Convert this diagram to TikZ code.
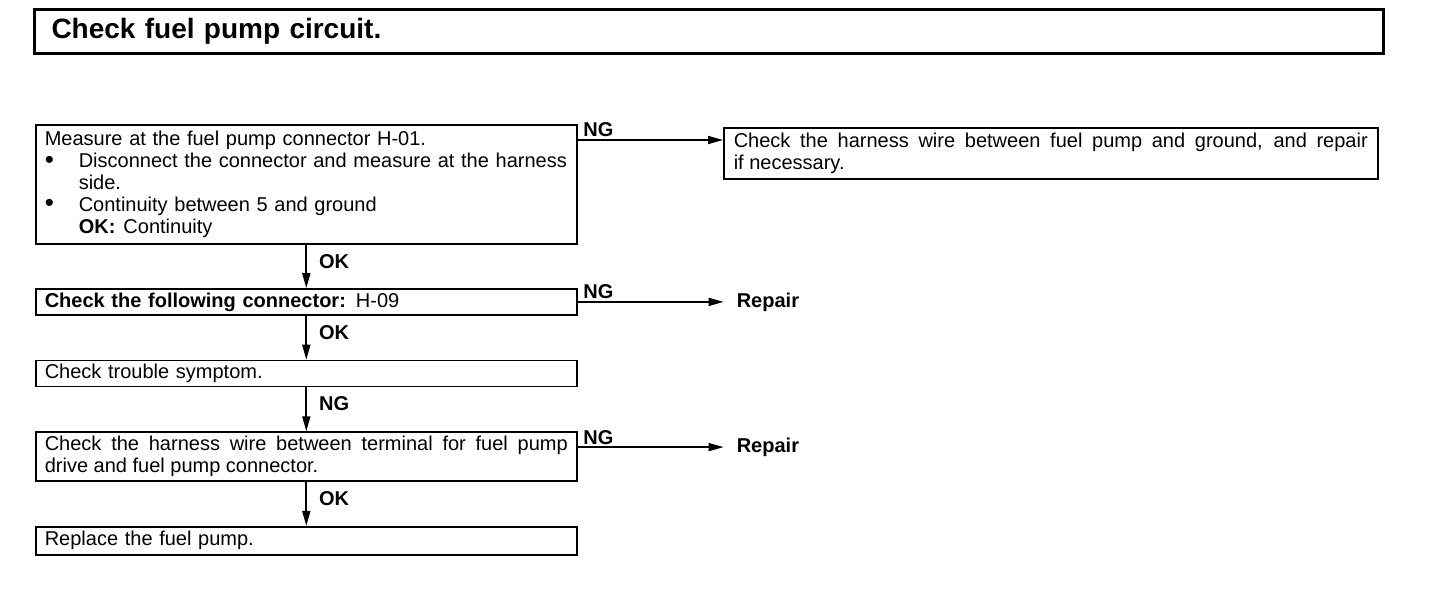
\documentclass[tikz,border=0pt]{standalone}
\usepackage{fontspec}
\setmainfont{Liberation Sans}
\usetikzlibrary{arrows.meta, positioning}

\newcommand{\dotitem}{\makebox[34pt][l]{\raisebox{-0.6pt}{\scalebox{1.3}{\textbullet}}}}

\begin{document}
\begin{tikzpicture}[x=1pt, y=-1pt,
    stepbox/.style={draw, line width=1.6pt, rectangle, anchor=north west, text width=523pt,
        inner xsep=9pt, inner ysep=0pt, align=left, font=\fontsize{20}{21.8}\selectfont},
    flow/.style={line width=1.7pt, -{Triangle[length=15pt, width=8pt]}},
    lbl/.style={font=\bfseries\fontsize{20}{20}\selectfont, inner sep=2pt},
    fix/.style={font=\bfseries\fontsize{20}{22}\selectfont, anchor=west, inner sep=0pt}]

    \useasboundingbox (0,0) rectangle (1440,592);

    % heading
    \node[draw, line width=3pt, anchor=north west, minimum height=44pt, text width=1315pt,
        inner xsep=17pt, align=left, font=\bfseries\fontsize{28}{30}\selectfont]
        (head) at (33,8) {Check fuel pump circuit.};

    % check steps
    \node[stepbox, minimum height=119pt] (m1) at (35,124) {Measure at the fuel pump connector H-01.\\
        \dotitem Disconnect the connector and measure at the harness\\
        \hspace*{34pt}side.\\
        \dotitem Continuity between 5 and ground\\
        \hspace*{34pt}\textbf{OK:}\hspace{8pt}Continuity};
    \node[stepbox, minimum height=26pt, below=43.5pt of m1] (m2) {\textbf{Check the following connector:} H-09};
    \node[stepbox, minimum height=26pt, below=44pt of m2] (m3) {Check trouble symptom.};
    \node[stepbox, minimum height=49pt, below=44pt of m3, align=justify] (m4)
        {Check the harness wire between terminal for fuel pump\linebreak drive and fuel pump connector.};
    \node[stepbox, minimum height=28pt, below=44pt of m4] (m5) {Replace the fuel pump.};

    % results
    \node[stepbox, minimum height=51pt, text width=634pt, inner xsep=10pt, align=justify] (r1) at (723,127)
        {Check the harness wire between fuel pump and ground, and repair\linebreak if necessary.};
    \node[fix, right=159pt of m2.east] (rep1) {Repair};
    \node[fix, right=159pt of m4.east, yshift=9.5pt] (rep2) {Repair};

    % OK / NG flow
    \coordinate (ng1) at (0,140);
    \draw[flow] (m1.south) -- node[lbl, right, xshift=10pt, pos=.38] {OK} (m2.north);
    \draw[flow] (m2.south) -- node[lbl, right, xshift=10pt, pos=.38] {OK} (m3.north);
    \draw[flow] (m3.south) -- node[lbl, right, xshift=10pt, pos=.38] {NG} (m4.north);
    \draw[flow] (m4.south) -- node[lbl, right, xshift=10pt, pos=.38] {OK} (m5.north);

    \draw[flow] (m1.east |- ng1) node[lbl, above right, xshift=3pt] {NG} -- (r1.west |- ng1);
    \draw[flow, shorten >=13pt] (m2.east) node[lbl, above right, xshift=3pt] {NG} -- (rep1.west);
    \draw[flow, shorten >=13pt] (m4.east |- rep2) node[lbl, above right, xshift=3pt] {NG} -- (rep2.west);
\end{tikzpicture}
\end{document}
